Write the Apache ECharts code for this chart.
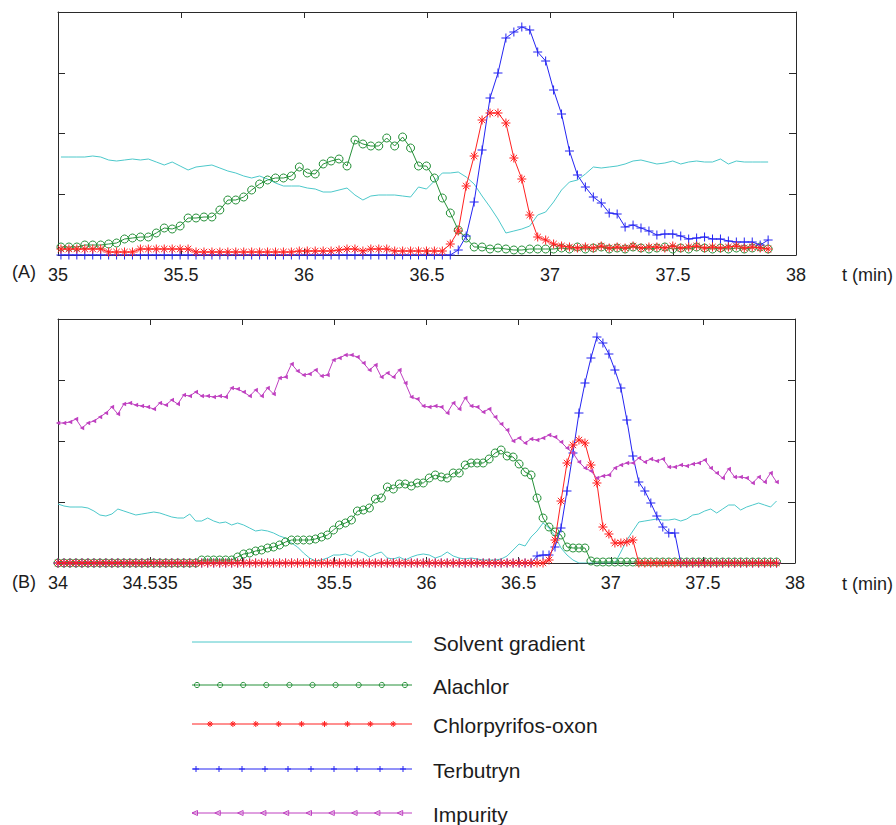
<!DOCTYPE html>
<html>
<head>
<meta charset="utf-8">
<script src="https://cdn.jsdelivr.net/npm/echarts@6/dist/echarts.min.js"></script>
<style>
  html, body { margin: 0; padding: 0; background: #ffffff; }
  #chart { width: 896px; height: 825px; }
</style>
</head>
<body>
<div id="chart"></div>
<script>
// ---- Sampling of the two chromatographic runs (minutes) ----
const A_TIME_START = 35.012;
const A_TIME_STEP = 0.0323;
const B_TIME_START = 34.0;
const B_TIME_STEP = 0.0325;

// ---- Axis ranges and tick labels ----
const A_X_RANGE = [35, 38];
const B_X_RANGE = [34, 38];
const X_TICK_STEP = 0.5;
const B_TICK_TEXT = { '34.5': '34.535' };
const X_UNIT = 't (min)';
const PANEL_TAGS = ['(A)', '(B)'];

// ---- Signal scale (arbitrary detector units) ----
const A_Y_MAX = 243, A_Y_STEP = 60.75;
const B_Y_MAX = 244, B_Y_STEP = 61;

const SERIES_NAMES = ['Solvent gradient', 'Alachlor', 'Chlorpyrifos-oxon', 'Terbutryn', 'Impurity'];

// ---- Run A signals ----
const A_SOLVENT = [
  98,98,98,98,99,98,95,94,95,96,
  95,96,93,90,93,89,85,88,89,90,
  87,84,82,79,77,79,76,72,69,69,
  69,67,66,63,63,65,67,60,55,59,
  60,60,60,59,58,68,66,74,82,82,
  83,78,71,59,48,36,22,24,26,29,
  40,43,53,65,73,75,81,88,87,88,
  89,91,94,95,93,91,92,94,91,93,
  94,93,93,96,91,94,93,93,93,93
];
const A_ALACHLOR = [
  8,8,8,10,10,10,11,12,16,17,
  18,18,22,27,26,29,37,37,38,38,
  45,55,55,58,65,71,75,77,77,79,
  88,82,81,91,94,96,89,115,111,109,
  109,117,109,118,107,89,89,77,57,42,
  25,17,8,8,6,7,6,5,5,6,
  6,6,6,7,6,8,6,7,8,6,
  7,6,8,7,6,7,8,6,7,6,
  8,7,6,7,6,7,6,7,8,6
];
const A_CHLORPYRIFOS = [
  6,6,6,6,6,6,3,3,3,3,
  6,6,6,6,6,6,6,3,3,3,
  3,3,3,3,3,3,3,3,3,3,
  4,4,4,4,4,5,6,6,4,6,
  6,6,4,4,4,4,4,4,4,11,
  24,69,99,135,142,142,132,97,76,40,
  18,15,11,9,8,7,8,7,9,7,
  8,7,9,7,8,8,7,9,7,8,
  9,7,8,7,8,9,7,8,7,6
];
const A_TERBUTRYN = [
  0,0,0,0,0,0,0,0,0,0,
  0,0,0,0,0,0,0,0,0,0,
  0,0,0,0,0,0,0,0,0,0,
  0,0,0,0,0,0,0,0,0,0,
  0,0,0,0,0,0,0,0,0,0,
  5,19,53,105,157,182,217,223,228,225,
  203,194,165,141,104,80,68,58,52,42,
  41,28,30,27,24,20,21,21,19,16,
  17,18,16,16,14,13,13,13,10,15
];

// ---- Run B signals ----
const B_SOLVENT = [
  59,57,56,56,56,55,52,48,47,49,
  54,52,50,48,49,50,51,50,48,46,
  45,45,49,42,42,45,42,40,41,38,
  40,38,35,32,33,32,30,27,25,20,
  16,10,5,2,3,5,8,8,9,7,
  12,10,6,9,11,5,4,6,3,6,
  8,9,8,5,7,11,7,5,4,5,
  4,3,3,3,4,7,13,19,17,26,
  32,40,35,27,15,8,3,0,0,0,
  0,0,0,0,11,23,32,41,42,43,
  44,43,43,44,42,44,48,49,52,54,
  50,54,58,58,53,56,58,60,58,56,
  62
];
const B_ALACHLOR = [
  0,0,0,0,0,0,0,0,0,0,
  0,0,0,0,0,0,0,0,0,0,
  0,0,0,0,3,3,3,3,3,3,
  6,9,10,12,13,15,16,18,21,23,
  23,23,23,24,26,28,33,38,40,43,
  52,53,55,64,65,76,74,79,79,77,
  80,80,85,88,86,85,90,90,98,100,
  100,100,104,110,113,107,106,99,91,88,
  65,45,36,31,28,16,15,15,15,2,
  1,1,1,1,1,1,1,1,1,1,
  1,1,1,1,1,1,1,1,1,1,
  1,1,1,1,1,1,1,1,1,1,
  1
];
const B_CHLORPYRIFOS = [
  0,0,0,0,0,0,0,0,0,0,
  0,0,0,0,0,0,0,0,0,0,
  0,0,0,0,0,0,0,0,0,0,
  0,0,0,0,0,0,0,0,0,0,
  0,0,0,0,0,0,0,0,0,0,
  0,0,0,0,0,0,0,0,0,0,
  0,0,0,0,0,0,0,0,0,0,
  0,0,0,0,0,0,0,0,0,0,
  0,0,3,23,62,100,118,123,120,98,
  80,36,29,20,20,21,23,0,0,0,
  0,0,0,0,0,0,0,0,0,0,
  0,0,0,0,0,0,0,0,0,0,
  0
];
const B_TERBUTRYN = [
  0,0,0,0,0,0,0,0,0,0,
  0,0,0,0,0,0,0,0,0,0,
  0,0,0,0,0,0,0,0,0,0,
  0,0,0,0,0,0,0,0,0,0,
  0,0,0,0,0,0,0,0,0,0,
  0,0,0,0,0,0,0,0,0,0,
  0,0,0,0,0,0,0,0,0,0,
  0,0,0,0,0,0,0,0,0,0,
  7,8,8,16,35,72,110,150,180,205,
  226,220,209,193,175,143,107,81,72,60,
  47,36,30,30,0,0,0,0,0,0,
  0,0,0,0,0,0,0,0,0,0,
  0
];
const B_IMPURITY = [
  140,140,141,144,135,140,142,146,150,156,
  149,159,160,158,157,156,154,160,158,163,
  159,168,167,171,167,167,166,167,166,175,
  174,171,167,173,167,175,169,185,186,199,
  192,188,189,193,187,188,203,205,208,208,
  206,200,193,198,186,190,186,193,180,166,
  164,157,156,157,156,150,160,154,165,157,
  156,151,154,146,139,133,122,125,120,124,
  123,125,128,126,121,115,110,101,95,92,
  85,87,88,95,98,100,100,105,101,104,
  102,104,96,96,98,97,99,100,103,95,
  90,85,94,86,86,85,80,86,81,90,
  81
];

// ---- Styling ----
const COLORS = ['#4cc8ca', '#27913a', '#ff2020', '#2424f2', '#bf40c0'];
const FONT = '"Liberation Sans", Arial, Helvetica, sans-serif';
const INK = '#1c1c1c';
const SYMBOLS = [
  'none',
  'circle',
  'path://M0,5L10,5M5,0L5,10M1.46,1.46L8.54,8.54M1.46,8.54L8.54,1.46',
  'path://M0,5L10,5M5,0L5,10',
  'path://M0,5L10,0L10,10Z'
];
const SYMBOL_SIZES = [0, 8, 9, 9, 4.5];
// stacking order: chlorpyrifos markers sit above terbutryn along the baseline
const SERIES_Z = [2, 3, 5, 4, 6];

const GRID_A = { left: 58, top: 12, width: 738, height: 243 };
const GRID_B = { left: 58, top: 319, width: 737, height: 244 };

function pairs(start, step, values) {
  return values.map((v, i) => [+(start + i * step).toFixed(4), v]);
}

function xAxes(gridIndex, range, labelText) {
  const base = {
    gridIndex, type: 'value', min: range[0], max: range[1], interval: X_TICK_STEP,
    axisLine: { show: true, onZero: false, lineStyle: { color: '#2a2a2a', width: 1 } },
    axisTick: { show: true, inside: true, length: 6, lineStyle: { color: '#2a2a2a' } },
    splitLine: { show: false }
  };
  return [
    Object.assign({}, base, {
      position: 'bottom',
      axisLabel: {
        show: true, fontSize: 18, fontFamily: FONT, color: INK, margin: 11,
        formatter: v => labelText[String(v)] || String(v)
      }
    }),
    Object.assign({}, base, { position: 'top', axisLabel: { show: false } })
  ];
}

function yAxes(gridIndex, max, step) {
  const base = {
    gridIndex, type: 'value', min: 0, max, interval: step,
    axisLine: { show: true, onZero: false, lineStyle: { color: '#2a2a2a', width: 1 } },
    axisTick: { show: true, inside: true, length: 7, lineStyle: { color: '#2a2a2a' } },
    axisLabel: { show: false },
    splitLine: { show: false }
  };
  return [
    Object.assign({}, base, { position: 'left' }),
    Object.assign({}, base, { position: 'right' })
  ];
}

function lineSeries(k, xIndex, yIndex, data) {
  const hasMarker = SYMBOLS[k] !== 'none';
  const filled = k === 4;
  return {
    name: SERIES_NAMES[k], type: 'line', xAxisIndex: xIndex, yAxisIndex: yIndex,
    data, showSymbol: hasMarker, symbol: SYMBOLS[k], symbolSize: SYMBOL_SIZES[k],
    lineStyle: { color: COLORS[k], width: 1 },
    itemStyle: {
      color: filled ? COLORS[k] : 'rgba(0,0,0,0)',
      borderColor: COLORS[k], borderWidth: filled ? 0 : 1
    },
    emphasis: { disabled: true }, silent: true, animation: false, z: SERIES_Z[k]
  };
}

const aSeries = [A_SOLVENT, A_ALACHLOR, A_CHLORPYRIFOS, A_TERBUTRYN]
  .map((vals, k) => lineSeries(k, 0, 0, pairs(A_TIME_START, A_TIME_STEP, vals)));
const bSeries = [B_SOLVENT, B_ALACHLOR, B_CHLORPYRIFOS, B_TERBUTRYN, B_IMPURITY]
  .map((vals, k) => lineSeries(k, 2, 2, pairs(B_TIME_START, B_TIME_STEP, vals)));

// ---- Legend drawn as sample lines with repeated markers ----
const LEGEND = { lineX0: 192, lineX1: 412, textX: 433, rowsY: [642, 685, 724, 769, 813] };
const LEGEND_MARKS = [
  null,
  { first: 197, step: 23.1, count: 10 },
  { first: 210, step: 22.9, count: 9 },
  { first: 196, step: 23.0, count: 10 },
  { first: 195, step: 22.8, count: 10 }
];

function legendMarker(k, cx, cy) {
  const c = COLORS[k];
  if (k === 1) return { type: 'circle', shape: { cx, cy, r: 2.6 }, style: { fill: 'none', stroke: c, lineWidth: 1 } };
  if (k === 4) return { type: 'polygon', shape: { points: [[cx - 3, cy], [cx + 2.5, cy - 2.5], [cx + 2.5, cy + 2.5]] }, style: { fill: 'none', stroke: c, lineWidth: 1 } };
  const r = 3;
  const segs = [[[cx - r, cy], [cx + r, cy]], [[cx, cy - r], [cx, cy + r]]];
  if (k === 2) {
    const d = r * 0.7;
    segs.push([[cx - d, cy - d], [cx + d, cy + d]], [[cx - d, cy + d], [cx + d, cy - d]]);
  }
  return {
    type: 'group',
    children: segs.map(s => ({ type: 'line', shape: { x1: s[0][0], y1: s[0][1], x2: s[1][0], y2: s[1][1] }, style: { stroke: c, lineWidth: 1 } }))
  };
}

const legendGraphics = [];
SERIES_NAMES.forEach((name, k) => {
  const y = LEGEND.rowsY[k];
  legendGraphics.push({ type: 'line', shape: { x1: LEGEND.lineX0, y1: y, x2: LEGEND.lineX1, y2: y }, style: { stroke: COLORS[k], lineWidth: 1 } });
  const m = LEGEND_MARKS[k];
  if (m) for (let j = 0; j < m.count; j++) legendGraphics.push(legendMarker(k, m.first + j * m.step, y));
  legendGraphics.push({ type: 'text', x: LEGEND.textX, y: y + 1, style: { text: name, font: '21px ' + FONT, fill: INK, verticalAlign: 'middle', align: 'left' } });
});

const panelText = [
  { type: 'text', x: 12, y: 272, style: { text: PANEL_TAGS[0], font: '18px ' + FONT, fill: INK, verticalAlign: 'middle' } },
  { type: 'text', x: 12, y: 582, style: { text: PANEL_TAGS[1], font: '18px ' + FONT, fill: INK, verticalAlign: 'middle' } },
  { type: 'text', x: 842, y: 275, style: { text: X_UNIT, font: '18px ' + FONT, fill: INK, verticalAlign: 'middle' } },
  { type: 'text', x: 842, y: 584, style: { text: X_UNIT, font: '18px ' + FONT, fill: INK, verticalAlign: 'middle' } }
];

const chart = echarts.init(document.getElementById('chart'), null, { renderer: 'svg' });
chart.setOption({
  animation: false,
  backgroundColor: '#ffffff',
  grid: [GRID_A, GRID_B],
  xAxis: [].concat(xAxes(0, A_X_RANGE, {}), xAxes(1, B_X_RANGE, B_TICK_TEXT)),
  yAxis: [].concat(yAxes(0, A_Y_MAX, A_Y_STEP), yAxes(1, B_Y_MAX, B_Y_STEP)),
  series: aSeries.concat(bSeries),
  graphic: panelText.concat(legendGraphics)
});
</script>
</body>
</html>
